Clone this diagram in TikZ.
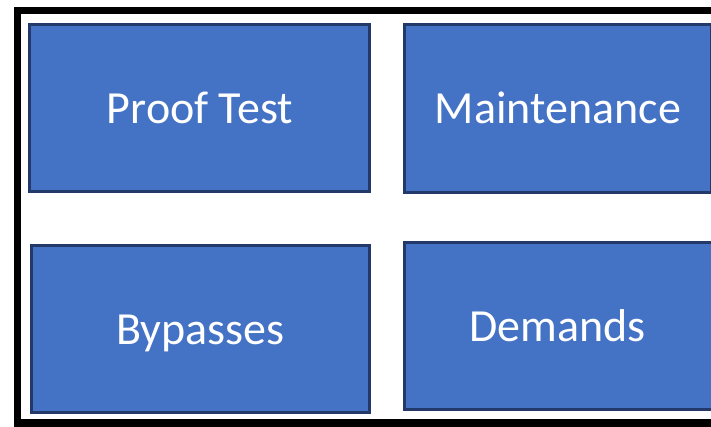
\documentclass[tikz,border=0pt]{standalone}
\usepackage{fontspec}
\setmainfont{Carlito}
\definecolor{boxfill}{HTML}{4472C4}
\definecolor{boxline}{HTML}{22396A}
\begin{document}
\begin{tikzpicture}[x=1pt,y=-1pt,
  card/.style={draw=boxline,fill=boxfill,line width=3pt},
  label/.style={text=white,font=\fontsize{46}{52}\selectfont,inner sep=0pt,text height=29.6pt,text depth=0pt}]
\useasboundingbox (0,0) rectangle (711,426);
\clip (0,0) rectangle (711,426);
\fill[white] (0,0) rectangle (711,426);
\draw[black,line width=7.5pt] (17.25,10.5) rectangle (740,422.75);
\draw[card] (29.5,24.5) rectangle (369.5,191.5);
\draw[card] (404.5,24.5) rectangle (711.5,192.5);
\draw[card] (31.5,245.5) rectangle (369.5,412.5);
\draw[card] (404.5,242.5) rectangle (740,409.5);
\node[label] (a) at (200,109) {Proof Test};
\node[label] (b) at (558,109) {Maintenance};
\node[label] (c) at (200.5,330) {Bypasses};
\node[label] (d) at (557.5,326.5) {Demands};
\end{tikzpicture}
\end{document}
